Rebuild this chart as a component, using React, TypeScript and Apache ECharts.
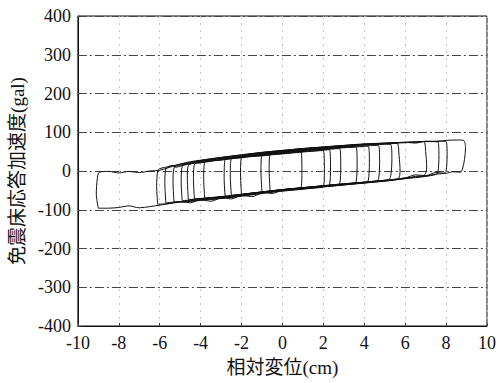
import React, { useEffect, useRef } from "react";
import * as echarts from "echarts";

const xTicks = [-10, -8, -6, -4, -2, 0, 2, 4, 6, 8, 10];
const yTicks = [-400, -300, -200, -100, 0, 100, 200, 300, 400];

// Hysteresis loops [relative displacement (cm), acceleration (gal)]
const outerLoop = [
  [-9.0, -96], [-9.1, -60], [-9.05, -20], [-8.95, -3], [-8.5, -1], [-8, -5], [-7.5, -1], [-7, -4],
  [-6.5, 0], [-6, 2], [-5.5, 10], [-5, 18], [-4.5, 24], [-4, 28], [-3, 35], [-2, 42], [-1, 48],
  [0, 53], [1, 58], [2, 62], [3, 66], [4, 70], [5, 72], [6, 74], [6.5, 72], [7, 77], [7.5, 76],
  [8, 79], [8.5, 80], [8.85, 79], [8.95, 60], [8.9, 30], [8.8, 5], [8.7, -3], [8.3, -2], [8, -6],
  [7.5, -4], [7, -12], [6.5, -10], [6, -18], [5, -24], [4, -30], [3, -35], [2, -40], [1, -46],
  [0, -50], [-1, -56], [-2, -64], [-3, -70], [-4, -75], [-5, -80], [-5.5, -84], [-6, -88],
  [-6.5, -92], [-7, -95], [-7.5, -90], [-8, -94], [-8.5, -96], [-9.0, -96],
];
const loop1 = [
  [-6.1, -86], [-6.15, -40], [-6.1, 0], [-6.0, 6], [-5.5, 12], [-5, 17], [-4, 26], [-3, 34], [-2, 40],
  [-1, 47], [0, 52], [1, 57], [2, 61], [3, 65], [4, 68], [5, 71], [6, 73], [6.9, 76], [7.0, 50],
  [7.05, 10], [6.95, -10], [6.5, -14], [6, -19], [5, -26], [4, -31], [3, -36], [2, -41], [1, -46],
  [0, -51], [-1, -57], [-1.5, -66], [-2, -63], [-3, -69], [-3.5, -78], [-4, -74], [-4.5, -82],
  [-5, -79], [-5.6, -84], [-6.1, -86],
];
const loop2 = [
  [-5.7, -82], [-5.75, -30], [-5.7, 5], [-5.4, 14], [-5.2, 10], [-4.5, 22], [-4, 27], [-3, 35], [-2, 41],
  [-1, 48], [0, 53], [1, 58], [2, 62], [3, 66], [4, 69], [5, 72], [6, 74], [7, 76], [7.6, 77], [8.0, 76],
  [8.05, 40], [8.0, 0], [7.9, -6], [7.5, -8], [7, -13], [6, -18], [5, -25], [4, -30], [3, -35],
  [2, -40], [1, -45], [0, -50], [-1, -56], [-2, -64], [-3, -70], [-4, -74], [-5, -79], [-5.7, -82],
];
const loop3 = [
  [-4.9, -77], [-4.95, -30], [-4.9, 12], [-4.5, 18], [-4, 24], [-3, 32], [-2, 39], [-1, 46], [0, 51],
  [1, 56], [2, 60], [3, 64], [4, 68], [5, 70], [5.6, 71], [5.7, 40], [5.75, 0], [5.65, -20], [5, -24],
  [4, -29], [3, -34], [2, -39], [1, -44], [0, -49], [-0.5, -58], [-1, -55], [-2, -62], [-2.5, -72],
  [-3, -68], [-4, -72], [-4.9, -77],
];
const loop4 = [
  [-4.6, -74], [-4.65, -20], [-4.6, 15], [-4, 22], [-3, 30], [-2, 37], [-1, 44], [0, 50], [1, 55],
  [2, 59], [3, 63], [4, 67], [5, 69], [5.3, 68], [5.35, 30], [5.3, -10], [5.2, -22], [4.5, -26],
  [4, -29], [3, -33], [2, -38], [1, -43], [0, -48], [-1, -54], [-2, -61], [-3, -67], [-4, -71], [-4.6, -74],
];
const loop5 = [
  [-4.3, -72], [-4.35, -25], [-4.3, 18], [-4, 21], [-3, 29], [-2, 36], [-1, 43], [0, 49], [1, 54],
  [2, 58], [3, 62], [4, 65], [4.7, 66], [4.75, 20], [4.7, -20], [4.6, -26], [4, -30], [3, -34],
  [2, -39], [1, -44], [0, -49], [-1, -55], [-2, -62], [-3, -67], [-4, -71], [-4.3, -72],
];
const loop6 = [
  [-3.8, -70], [-3.85, -20], [-3.8, 22], [-3, 28], [-2, 35], [-1, 42], [0, 48], [1, 53], [2, 57],
  [3, 61], [4, 63], [4.2, 64], [4.25, 20], [4.2, -24], [4.1, -28], [3, -33], [2, -38], [1, -43],
  [0, -48], [-1, -54], [-2, -60], [-3, -66], [-3.8, -70],
];
const loop7 = [
  [-2.8, -67], [-2.85, -20], [-2.8, 30], [-2, 34], [-1, 41], [0, 47], [1, 52], [2, 56], [3, 60],
  [3.6, 62], [3.65, 20], [3.6, -28], [3.4, -32], [3, -34], [2, -39], [1, -44], [0, -49], [-1, -55],
  [-2, -61], [-2.8, -67],
];
const loop8 = [
  [-2.5, -63], [-2.55, -10], [-2.5, 32], [-2, 36], [-1, 40], [0, 46], [1, 51], [2, 55], [2.8, 58],
  [2.85, 10], [2.8, -32], [2.5, -36], [2, -38], [1, -43], [0, -48], [-1, -54], [-2, -60], [-2.5, -63],
];
const loop9 = [
  [-2.0, -62], [-2.05, -10], [-2.0, 35], [-1, 39], [0, 45], [1, 50], [2, 54], [2.3, 55], [2.35, 10],
  [2.3, -36], [2, -40], [1, -44], [0, -49], [-1, -55], [-2, -62],
];
const loop10 = [
  [-1.0, -56], [-1.05, 0], [-1.0, 40], [0, 44], [1, 49], [2, 53], [2.05, 0], [2.0, -40], [1, -45],
  [0, -50], [-1, -56],
];
const loop11 = [
  [-0.6, -53], [-0.65, 0], [-0.6, 44], [0, 47], [0.9, 52], [0.95, 0], [0.9, -44], [0, -48], [-0.6, -53],
];
const loop12 = [
  [-5.3, -80], [-5.35, -30], [-5.3, 8], [-5, 15], [-4, 25], [-3, 33], [-2, 40], [-1, 46], [0, 52],
  [1, 57], [2, 61], [3, 65], [4, 69], [5, 71], [6, 74], [7, 76], [7.6, 75], [7.65, 40], [7.6, -4],
  [7.5, -9], [7, -14], [6, -20], [5, -26], [4, -31], [3, -36], [2, -41], [1, -47], [0, -52],
  [-1, -58], [-2, -65], [-3, -71], [-4, -76], [-5, -80], [-5.3, -80],
];

const loops = [outerLoop, loop1, loop2, loop3, loop4, loop5, loop6, loop7, loop8, loop9, loop10, loop11, loop12];

const serif = "'Liberation Serif', 'DejaVu Serif', serif";
const cjk = "'Liberation Serif', 'Noto Sans CJK JP', serif";

export default function App() {
  const ref = useRef<HTMLDivElement>(null);
  useEffect(() => {
    if (!ref.current) return;
    const chart = echarts.init(ref.current, null, { renderer: "svg" });
    chart.setOption({
      animation: false,
      backgroundColor: "#ffffff",
      grid: { left: 77, right: 15, top: 16, bottom: 57, show: true, borderColor: "#111", borderWidth: 1, backgroundColor: "transparent" },
      xAxis: {
        type: "value",
        min: xTicks[0],
        max: xTicks[xTicks.length - 1],
        interval: 2,
        name: "相対変位(cm)",
        nameLocation: "middle",
        nameGap: 32,
        nameTextStyle: { fontFamily: cjk, fontSize: 19, color: "#111" },
        axisLine: { onZero: false, lineStyle: { color: "#111" } },
        axisTick: { inside: true, length: 3, lineStyle: { color: "#444" } },
        axisLabel: { fontFamily: serif, fontSize: 18, color: "#111", margin: 8 },
        splitLine: { show: true, lineStyle: { color: "#c4c4c4", type: [2, 5], width: 1 } },
      },
      yAxis: {
        type: "value",
        min: yTicks[0],
        max: yTicks[yTicks.length - 1],
        interval: 100,
        name: "免震床応答加速度(gal)",
        nameLocation: "middle",
        nameRotate: 90,
        nameGap: 50,
        nameTextStyle: { fontFamily: cjk, fontSize: 19, color: "#111" },
        axisLine: { onZero: false, lineStyle: { color: "#111" } },
        axisTick: { inside: true, length: 3, lineStyle: { color: "#444" } },
        axisLabel: { fontFamily: serif, fontSize: 18, color: "#111", margin: 7 },
        splitLine: { show: true, lineStyle: { color: "#444", type: [9, 3, 2, 3], width: 1 } },
      },
      series: loops.map((d) => ({
        type: "line",
        data: d,
        showSymbol: false,
        smooth: 0.3,
        lineStyle: { color: "#111", width: 1 },
      })),
    });
    return () => chart.dispose();
  }, []);
  return <div ref={ref} style={{ width: 502, height: 383, position: "absolute", left: 0, top: 0 }} />;
}
